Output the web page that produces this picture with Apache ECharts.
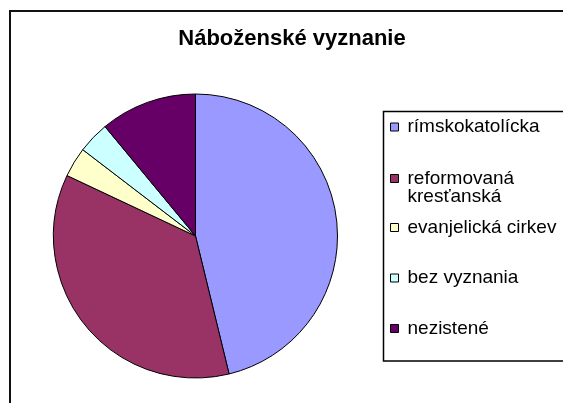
<!DOCTYPE html>
<html>
<head>
<meta charset="utf-8">
<script src="https://cdn.jsdelivr.net/npm/echarts@6/dist/echarts.min.js"></script>
<style>
  html, body { margin: 0; padding: 0; background: #fff; }
  #chart { width: 563px; height: 403px; }
</style>
</head>
<body>
<div id="chart"></div>
<script>
// údaje (%)
const categories = ['rímskokatolícka', 'reformovaná kresťanská', 'evanjelická cirkev', 'bez vyznania', 'nezistené'];
const values = [46.2, 35.8, 3.4, 3.6, 11.0];
const colors = ['#9999FF', '#993366', '#FFFFCC', '#CCFFFF', '#660066'];

const chart = echarts.init(document.getElementById('chart'));
const font = "'Liberation Sans', Arial, sans-serif";

// legenda - každá položka zvlášť, aby sedeli riadky ako v Exceli
const legendRows = [126.5, 177.5, 227, 277.5, 328];
const legends = categories.map((name, i) => {
  const twoLines = i === 1;
  return {
    data: [name],
    orient: 'vertical',
    left: 390,
    top: twoLines ? legendRows[i] - 27 : legendRows[i] - 9,
    padding: 0,
    itemWidth: 8,
    itemHeight: 8,
    icon: 'rect',
    itemStyle: { borderColor: '#000', borderWidth: 1 },
    // prázdny prvý riadok -> prvý riadok textu ostane pri ikonke
    formatter: n => twoLines ? '\n' + n.replace(' ', '\n') : n,
    textStyle: {
      fontFamily: font,
      fontSize: 19,
      color: '#000',
      lineHeight: 18.5,
      padding: [0, 0, 0, 4]
    }
  };
});

const option = {
  animation: false,
  backgroundColor: '#fff',
  title: {
    text: 'Náboženské vyznanie',
    left: 292,
    textAlign: 'center',
    top: 28,
    padding: 0,
    textStyle: { fontFamily: font, fontSize: 22, fontWeight: 'bold', color: '#000' }
  },
  legend: legends,
  graphic: [
    {
      type: 'rect',
      shape: { x: 10, y: 11, width: 620, height: 450 },
      style: { fill: 'none', stroke: '#111', lineWidth: 2 },
      silent: true
    },
    {
      type: 'rect',
      shape: { x: 383.5, y: 111.5, width: 300, height: 249.5 },
      style: { fill: 'none', stroke: '#000', lineWidth: 1.5 },
      silent: true,
      z: -1
    }
  ],
  series: [{
    type: 'pie',
    center: [195.5, 236],
    radius: 142,
    startAngle: 90,
    clockwise: true,
    label: { show: false },
    labelLine: { show: false },
    emphasis: { disabled: true },
    itemStyle: { borderColor: '#000', borderWidth: 1 },
    data: categories.map((name, i) => ({
      name: name,
      value: values[i],
      itemStyle: { color: colors[i] }
    }))
  }]
};

chart.setOption(option);
</script>
</body>
</html>
